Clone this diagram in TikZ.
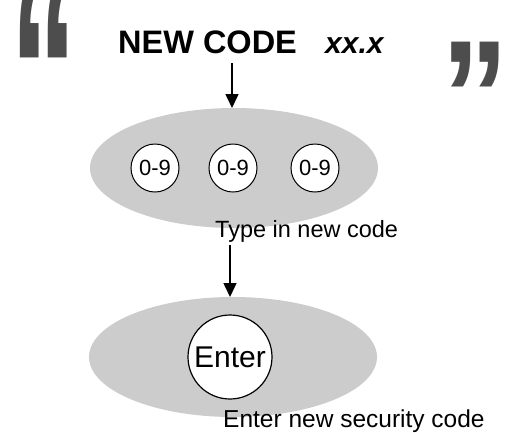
\documentclass[tikz,border=0pt]{standalone}
\usepackage{fontspec}
\setmainfont{Liberation Sans}
\usetikzlibrary{shapes.geometric,arrows.meta}
\definecolor{ovalgray}{HTML}{CCCCCC}
\definecolor{quotegray}{HTML}{4D4D4D}
\tikzset{
  oval/.style={ellipse, fill=ovalgray, minimum width=288pt, minimum height=120pt, inner sep=0pt},
  digit/.style={circle, draw=black, line width=1pt, fill=white, minimum size=48pt, inner sep=0pt, font=\fontsize{22}{26}\selectfont},
  enterkey/.style={circle, draw=black, line width=1.2pt, fill=white, minimum size=84pt, inner sep=0pt, font=\fontsize{30}{36}\selectfont},
  plain/.style={inner sep=0pt, anchor=base west},
  quotemark/.style={inner sep=0pt, anchor=base west, text=quotegray, font=\fontsize{150}{150}\selectfont\bfseries},
  flow/.style={line width=1.5pt, -{Triangle[length=14pt,width=13pt]}}
}
\begin{document}
\begin{tikzpicture}[x=1pt,y=-1pt]
\useasboundingbox (0,0) rectangle (507,432);
\node[quotemark, xscale=0.89, yscale=1.8] (lq) at (10,167) {“};
\node[quotemark, xscale=0.9, yscale=1.06] (rq) at (441,151) {”};
\node[plain, font=\fontsize{32.5}{38}\selectfont\bfseries] (title) at (118,53) {NEW CODE};
\node[plain, font=\fontsize{30}{36}\selectfont\bfseries\itshape] (ver) at (325,53) {xx.x};
\node[oval] (top) at (234,168) {};
\node[digit] (d1) at (155,168) {0-9};
\node[digit] (d2) at (233,168) {0-9};
\node[digit] (d3) at (315,168) {0-9};
\node[plain, font=\fontsize{23.5}{28}\selectfont] (typetxt) at (215,237) {Type in new code};
\node[oval] (bot) at (233,357) {};
\node[enterkey] (enter) at (230,357) {Enter};
\node[plain, font=\fontsize{24.5}{29}\selectfont] (entertxt) at (223,427) {Enter new security code};
\coordinate (a1s) at (232,63);
\coordinate (a1e) at (232,108);
\coordinate (a2s) at (230,245);
\coordinate (a2e) at (230,297);
\draw[flow] (a1s) -- (a1e);
\draw[flow] (a2s) -- (a2e);
\end{tikzpicture}
\end{document}
